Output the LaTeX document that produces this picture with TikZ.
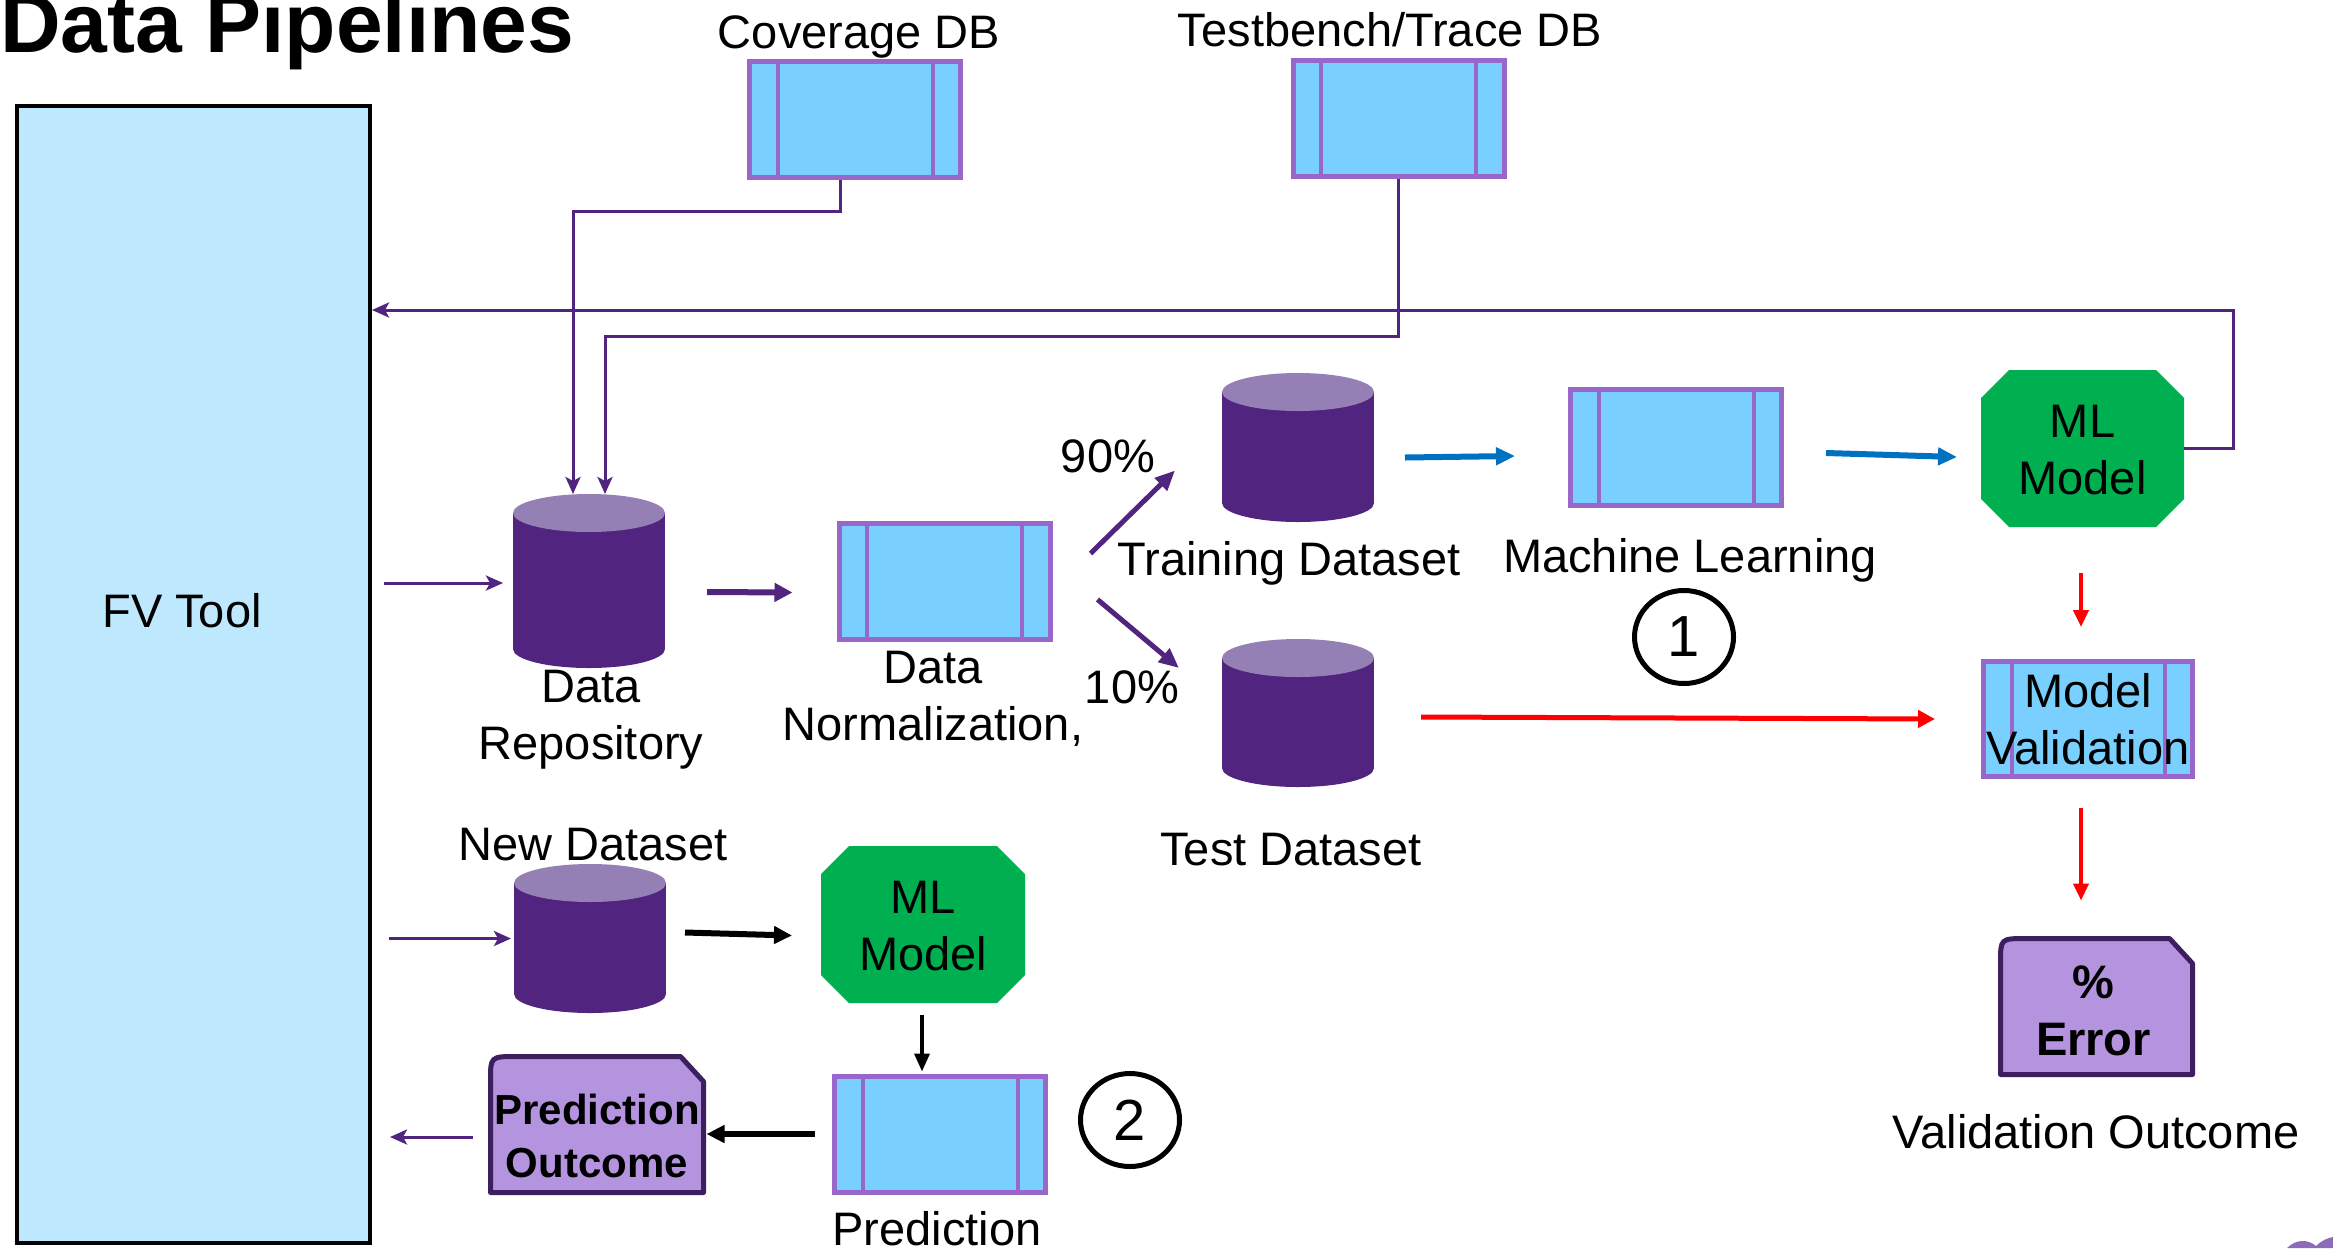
\documentclass[tikz,border=0pt]{standalone}
\usepackage{fontspec}
\setmainfont{Liberation Sans}
\usetikzlibrary{arrows.meta,calc,shapes.geometric}

\definecolor{cFv}{HTML}{BDE8FD}
\definecolor{cProc}{HTML}{79CFFD}
\definecolor{cProcEdge}{HTML}{9966CC}
\definecolor{cCylBody}{HTML}{51247F}
\definecolor{cCylTop}{HTML}{9580B6}
\definecolor{cMl}{HTML}{00B050}
\definecolor{cOut}{HTML}{B494DF}
\definecolor{cOutEdge}{HTML}{3D1F60}
\definecolor{cFlow}{HTML}{51247F}
\definecolor{cBlue}{HTML}{0070C0}
\definecolor{cRed}{HTML}{FF0000}
\definecolor{cLogo}{HTML}{8C6BB8}

\newcommand{\lblfont}{\fontsize{47}{57}\selectfont}
\newcommand{\boldlbl}{\fontsize{47}{57}\selectfont\bfseries}
\newcommand{\outfont}{\fontsize{42}{53}\selectfont\bfseries}
\newcommand{\titlefont}{\fontsize{84}{90}\selectfont\bfseries}
\newcommand{\digitfont}{\fontsize{58}{60}\selectfont}

% database cylinder: name, centre x, top y, bottom y
\newcommand{\dbcyl}[4]{%
  \node[frame, minimum width=152pt, minimum height={(#4-#3)*1pt}] (#1) at (#2,{(#3+#4)/2}) {};
  \fill[cCylBody] (#2-76,#3+19) rectangle (#2+76,#4-19);
  \fill[cCylBody] (#2,#4-19) ellipse [x radius=76pt, y radius=19pt];
  \fill[cCylTop] (#2,#3+19) ellipse [x radius=76pt, y radius=19pt];
}
% octagon filling the frame of a named node
\newcommand{\octfill}[1]{%
  \fill[cMl] ($(#1.north west)+(28,0)$) -- ($(#1.north east)+(-28,0)$)
    -- ($(#1.north east)+(0,28)$) -- ($(#1.south east)+(0,-28)$)
    -- ($(#1.south east)+(-28,0)$) -- ($(#1.south west)+(28,0)$)
    -- ($(#1.south west)+(0,-28)$) -- ($(#1.north west)+(0,28)$) -- cycle;
}
% outcome card: rounded top-left, snipped top-right
\newcommand{\outshape}[1]{%
  \draw[fill=cOut, draw=cOutEdge, line width=5pt, line join=round]
    (#1.south west) -- ($(#1.north west)+(0,24)$)
    .. controls (#1.north west) .. ($(#1.north west)+(26,0)$)
    -- ($(#1.north east)+(-23,0)$) -- ($(#1.north east)+(0,25)$)
    -- (#1.south east) -- cycle;
}

\begin{document}
\begin{tikzpicture}[x=1pt,y=-1pt,
  frame/.style={inner sep=0pt, outer sep=0pt},
  lbl/.style={font=\lblfont, inner sep=0pt},
  procbox/.style={draw=cProcEdge, line width=5pt, fill=cProc,
    minimum width=211pt, minimum height=116pt, inner sep=0pt,
    path picture={
      \draw[cProcEdge, line width=4pt]
        ([xshift=28pt]path picture bounding box.north west) --
        ([xshift=28pt]path picture bounding box.south west);
      \draw[cProcEdge, line width=4pt]
        ([xshift=-28pt]path picture bounding box.north east) --
        ([xshift=-28pt]path picture bounding box.south east);}},
  numring/.style={ellipse, draw=black, line width=5pt, minimum width=99pt,
    minimum height=93pt, inner sep=0pt, font=\digitfont},
  flowthin/.style={draw=cFlow, line width=3pt, -{Stealth[length=17pt,width=15pt,inset=4pt]}},
  flowfat/.style={draw=cFlow, line width=6pt, -{Triangle[length=18pt,width=18pt]}},
  flowsplit/.style={draw=cFlow, line width=5pt, -{Triangle[length=20pt,width=17pt]}},
  bluearr/.style={draw=cBlue, line width=6pt, -{Triangle[length=19pt,width=17pt]}},
  redfat/.style={draw=cRed, line width=5pt, -{Triangle[length=17pt,width=17pt]}},
  redthin/.style={draw=cRed, line width=4pt, -{Triangle[length=17pt,width=15pt]}},
  blackfat/.style={draw=black, line width=6pt, -{Triangle[length=18pt,width=17pt]}},
  blackthin/.style={draw=black, line width=3.5pt, -{Triangle[length=18pt,width=15pt]}}]

\useasboundingbox[fill=white] (0,0) rectangle (2333,1248);

% title
\node[font=\titlefont, anchor=base west, inner sep=0pt] (title) at (0,52) {Data Pipelines};

% FV tool column
\node[draw=black, line width=4pt, fill=cFv, minimum width=353pt,
      minimum height=1137pt, inner sep=0pt] (fv) at (193.5,674.5) {};
\node[lbl, anchor=base] (fvlbl) at (182,627) {FV Tool};

% databases feeding the repository
\node[procbox] (cov) at (855,119) {};
\node[lbl, anchor=base] (covlbl) at (859,48) {Coverage DB};
\node[procbox] (tb) at (1398.5,118.5) {};
\node[lbl, anchor=base] (tblbl) at (1390,46) {Testbench/Trace DB};

% cylinders
\dbcyl{repo}{589}{494}{668}
\dbcyl{train}{1298}{373}{522}
\dbcyl{test}{1298}{639}{787}
\dbcyl{newds}{590}{864}{1013}

\node[lbl, align=center, anchor=north] (repolbl) at (591,670) {Data\\Repository};
\node[lbl, anchor=base] (trainlbl) at (1289,575) {Training Dataset};
\node[lbl, anchor=base] (testlbl) at (1291,865) {Test Dataset};
\node[lbl, anchor=base] (newdslbl) at (593,860) {New Dataset};

% processing steps
\node[procbox] (norm) at (944.5,581.5) {};
\node[lbl, align=center, anchor=north] (normlbl) at (933,651) {Data\\Normalization,};
\node[procbox] (mlbox) at (1676,447) {};
\node[lbl, anchor=base] (mllbl) at (1690,572) {Machine Learning};
\node[procbox, font=\lblfont, align=center, minimum width=209pt, minimum height=115pt] (val) at (2088,719) {Model\\Validation};
\node[procbox] (pred) at (940,1134) {};
\node[lbl, anchor=base] (predlbl) at (937,1245) {Prediction};

% trained models
\node[frame, minimum width=203pt, minimum height=157pt] (ml1) at (2082.5,448.5) {};
\octfill{ml1}
\node[lbl, align=center] (ml1txt) at ($(ml1.center)+(0,2)$) {ML\\Model};
\node[frame, minimum width=204pt, minimum height=157pt] (ml2) at (923,924.5) {};
\octfill{ml2}
\node[lbl, align=center] (ml2txt) at ($(ml2.center)+(0,2)$) {ML\\Model};

% outcomes
\node[frame, minimum width=192pt, minimum height=136pt] (err) at (2096.5,1006.5) {};
\outshape{err}
\node[font=\boldlbl, align=center, inner sep=0pt] (errtxt) at ($(err.center)+(-3,4)$) {\%\\Error};
\node[lbl, anchor=base] (errlbl) at (2096,1148) {Validation Outcome};

\node[frame, minimum width=213pt, minimum height=136pt] (predout) at (597,1124.5) {};
\outshape{predout}
\node[font=\outfont, align=center, inner sep=0pt] (predouttxt) at ($(predout.center)+(0,11)$) {Prediction\\Outcome};

% split percentages
\node[lbl, anchor=base] (p90) at (1108,472) {90\%};
\node[lbl, anchor=base] (p10) at (1132,703) {10\%};

% step numbers
\node[numring] (one) at (1684,637) {1};
\node[numring] (two) at (1130,1120) {2};

% connectors into the repository
\draw[flowthin] ([xshift=-15pt]cov.south) -- ++(0,32) -| ([xshift=-16pt]repo.north);
\draw[flowthin] (tb.south) -- ++(0,157) -| ([xshift=16pt]repo.north);
\draw[flowthin] ($(fv.east |- repo.west)+(12,2)$) -- ($(repo.west)+(-10,2)$);

% feedback from the trained model to the tool
\coordinate (fbk) at (2233,310);
\draw[flowthin] (ml1.east) -| (fbk) -- (fbk -| fv.east);

% training path
\draw[flowfat] ($(repo.east)+(42,11)$) -- ($(norm.west)+(-44,11)$);
\coordinate (s90a) at ($(norm.east)+(38,-28)$);
\coordinate (s90b) at ($(train.west)+(-47,23)$);
\draw[flowsplit] (s90a) -- (s90b);
\coordinate (s10a) at ($(norm.east)+(45,18)$);
\coordinate (s10b) at ($(test.west)+(-43,-45)$);
\draw[flowsplit] (s10a) -- (s10b);
\draw[bluearr] ($(train.east)+(31,10)$) -- ($(mlbox.west)+(-53,9)$);
\draw[bluearr] ($(mlbox.east)+(42,6)$) -- ($(ml1.west)+(-24,8.5)$);

% validation path
\draw[redfat] ($(test.east)+(47,4)$) -- ($(val.west |- test.east)+(-46,6)$);
\draw[redthin] ($(ml1.south)+(-1.5,46)$) -- ($(val.north)+(-7,-32)$);
\draw[redthin] ($(val.south)+(-7,29)$) -- ($(err.north -| val.south)+(-7,-38)$);

% prediction path
\draw[flowthin] ($(fv.east |- newds.west)+(17,0)$) -- ($(newds.west)+(-3,0)$);
\draw[blackfat] ($(newds.east)+(19,-6)$) -- ($(ml2.west)+(-29,11)$);
\draw[blackthin] ($(ml2.south)+(-1,12)$) -- ($(pred.north)+(-18,-2)$);
\draw[blackfat] ($(pred.west)+(-17,0)$) -- ($(predout.east |- pred.west)+(3,0)$);
\draw[flowthin] ($(predout.west)+(-18,12.5)$) -- ($(fv.east |- predout.west)+(18,12.5)$);

% corner mark
\fill[cLogo] (2287,1248) .. controls (2296,1239) and (2308,1239) .. (2316,1246)
  .. controls (2322,1240) and (2328,1238) .. (2333,1237) -- (2333,1248) -- cycle;
\end{tikzpicture}
\end{document}
